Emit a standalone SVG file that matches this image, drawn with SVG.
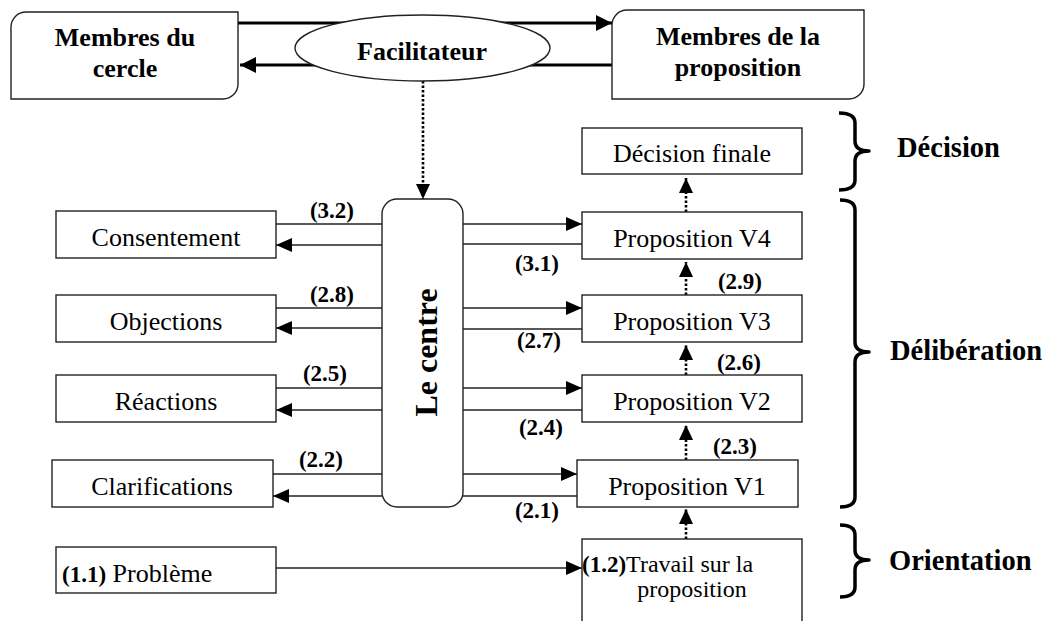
<svg xmlns="http://www.w3.org/2000/svg" width="1048" height="621" viewBox="0 0 1048 621">
<style>
.box{fill:#fff;stroke:#222;stroke-width:1.4}
.ln{fill:none;stroke:#222;stroke-width:1.4}
.thick{fill:none;stroke:#000;stroke-width:3}
.dot{fill:none;stroke:#000;stroke-width:2.6;stroke-dasharray:2.5 2}
.brace{fill:none;stroke:#000;stroke-width:3.5;stroke-linejoin:round}
text{font-family:"Liberation Serif","Times New Roman",serif;fill:#000}
.t{font-size:26px;text-anchor:middle}
.b{font-weight:bold}
.lbl{font-size:23px;font-weight:bold;text-anchor:middle}
.hd{font-size:26px;font-weight:bold;text-anchor:middle}
.ph{font-size:28.5px;font-weight:bold}
</style>
<defs>
<marker id="ah" markerUnits="userSpaceOnUse" markerWidth="16" markerHeight="14" refX="16" refY="7" orient="auto"><path d="M0,0 L16,7 L0,14 Z" fill="#000"/></marker>
<marker id="ahBig" markerUnits="userSpaceOnUse" markerWidth="16" markerHeight="16" refX="16" refY="8" orient="auto"><path d="M0,0 L16,8 L0,16 Z" fill="#000"/></marker>
<marker id="ahDot" markerUnits="userSpaceOnUse" markerWidth="15" markerHeight="14" refX="15" refY="7" orient="auto"><path d="M0,0 L15,7 L0,14 Z" fill="#000"/></marker>
</defs>
<rect width="1048" height="621" fill="#fff"/>

<g id="connectors">
<line class="thick" x1="238" y1="23" x2="612" y2="23" marker-end="url(#ahBig)"/>
<line class="thick" x1="612" y1="65" x2="240" y2="65" marker-end="url(#ahBig)"/>
<line class="dot" x1="423" y1="81" x2="423" y2="199" marker-end="url(#ahDot)"/>
<line class="ln" x1="382" y1="224" x2="276" y2="224"/>
<line class="ln" x1="382" y1="245" x2="276" y2="245" marker-end="url(#ah)"/>
<line class="ln" x1="382" y1="308" x2="276" y2="308"/>
<line class="ln" x1="382" y1="328" x2="276" y2="328" marker-end="url(#ah)"/>
<line class="ln" x1="382" y1="388" x2="276" y2="388"/>
<line class="ln" x1="382" y1="410" x2="276" y2="410" marker-end="url(#ah)"/>
<line class="ln" x1="382" y1="474" x2="273" y2="474"/>
<line class="ln" x1="382" y1="496" x2="273" y2="496" marker-end="url(#ah)"/>
<line class="ln" x1="463" y1="224" x2="582" y2="224" marker-end="url(#ah)"/>
<line class="ln" x1="463" y1="244" x2="582" y2="244"/>
<line class="ln" x1="463" y1="308" x2="582" y2="308" marker-end="url(#ah)"/>
<line class="ln" x1="463" y1="329" x2="582" y2="329"/>
<line class="ln" x1="463" y1="388" x2="582" y2="388" marker-end="url(#ah)"/>
<line class="ln" x1="463" y1="410" x2="582" y2="410"/>
<line class="ln" x1="463" y1="474" x2="577" y2="474" marker-end="url(#ah)"/>
<line class="ln" x1="463" y1="496" x2="577" y2="496"/>
<line class="ln" x1="276" y1="568" x2="582" y2="568" marker-end="url(#ah)"/>
<line class="dot" x1="686" y1="212" x2="686" y2="178" marker-end="url(#ahDot)"/>
<line class="dot" x1="686" y1="295" x2="686" y2="262" marker-end="url(#ahDot)"/>
<line class="dot" x1="686" y1="375" x2="686" y2="345" marker-end="url(#ahDot)"/>
<line class="dot" x1="686" y1="460" x2="686" y2="425" marker-end="url(#ahDot)"/>
<line class="dot" x1="686" y1="539" x2="686" y2="509" marker-end="url(#ahDot)"/>
<text class="lbl" x="332" y="218">(3.2)</text>
<text class="lbl" x="332" y="302">(2.8)</text>
<text class="lbl" x="325" y="381">(2.5)</text>
<text class="lbl" x="321" y="467">(2.2)</text>
<text class="lbl" x="537" y="271">(3.1)</text>
<text class="lbl" x="539" y="348">(2.7)</text>
<text class="lbl" x="541" y="435">(2.4)</text>
<text class="lbl" x="537" y="518">(2.1)</text>
<text class="lbl" x="740" y="289">(2.9)</text>
<text class="lbl" x="739" y="370">(2.6)</text>
<text class="lbl" x="735" y="454">(2.3)</text>
</g>

<g id="membres-cercle">
<path class="box" d="M11,27 A15,15 0 0 1 26,12 L238,12 L238,84 A15,15 0 0 1 223,99 L11,99 Z"/>
<text class="hd" x="125" y="46">Membres du</text>
<text class="hd" x="125" y="77">cercle</text>
</g>
<g id="membres-proposition">
<path class="box" d="M612,25 A15,15 0 0 1 627,10 L864,10 L864,84 A15,15 0 0 1 849,99 L612,99 Z"/>
<text class="hd" x="738" y="45">Membres de la</text>
<text class="hd" x="738" y="76">proposition</text>
</g>
<g id="facilitateur">
<ellipse class="box" cx="422.5" cy="48" rx="127.5" ry="33"/>
<text class="hd" x="422" y="60">Facilitateur</text>
</g>
<g id="le-centre">
<rect class="box" x="382" y="199" width="81" height="308" rx="15" ry="15"/>
<text class="b" font-size="32" text-anchor="middle" transform="translate(437,352.5) rotate(-90)">Le centre</text>
</g>
<g id="consentement">
<rect class="box" x="56" y="211" width="220" height="47"/>
<text class="t" x="166" y="246">Consentement</text>
</g>
<g id="objections">
<rect class="box" x="56" y="295" width="220" height="47"/>
<text class="t" x="166" y="330">Objections</text>
</g>
<g id="reactions">
<rect class="box" x="56" y="375" width="220" height="47"/>
<text class="t" x="166" y="410">Réactions</text>
</g>
<g id="clarifications">
<rect class="box" x="52" y="460" width="221" height="47"/>
<text class="t" x="162" y="495">Clarifications</text>
</g>
<g id="probleme">
<rect class="box" x="56" y="547" width="220" height="46"/>
<text x="62" y="582" font-size="26"><tspan class="b" font-size="23">(1.1)</tspan> Problème</text>
</g>
<g id="decision-finale">
<rect class="box" x="582" y="128" width="220" height="46"/>
<text class="t" x="692" y="162">Décision finale</text>
</g>
<g id="proposition-v4">
<rect class="box" x="582" y="212" width="220" height="47"/>
<text class="t" x="692" y="247">Proposition V4</text>
</g>
<g id="proposition-v3">
<rect class="box" x="582" y="295" width="220" height="47"/>
<text class="t" x="692" y="330">Proposition V3</text>
</g>
<g id="proposition-v2">
<rect class="box" x="582" y="375" width="220" height="47"/>
<text class="t" x="692" y="410">Proposition V2</text>
</g>
<g id="proposition-v1">
<rect class="box" x="577" y="460" width="221" height="47"/>
<text class="t" x="687" y="495">Proposition V1</text>
</g>
<g id="travail">
<rect class="box" x="582" y="539" width="220" height="90"/>
<text x="582" y="572" font-size="24"><tspan class="b" font-size="23">(1.2)</tspan>Travail sur la</text>
<text x="692" y="597" font-size="24" text-anchor="middle">proposition</text>
</g>
<g id="phase-decision">
<path class="brace" d="M839,113 Q855,113 855,123 L855,141 Q855,151 869,151 Q855,151 855,161 L855,180 Q855,190 839,190"/>
<text class="ph" x="897" y="157">Décision</text>
</g>
<g id="phase-deliberation">
<path class="brace" d="M840,200 Q855,200 855,210 L855,342 Q855,352 869,352 Q855,352 855,362 L855,497 Q855,507 840,507"/>
<text class="ph" x="890" y="360">Délibération</text>
</g>
<g id="phase-orientation">
<path class="brace" d="M840,525 Q855,525 855,535 L855,550 Q855,560 869,560 Q855,560 855,570 L855,587 Q855,597 840,597"/>
<text class="ph" x="889" y="570">Orientation</text>
</g>
</svg>
